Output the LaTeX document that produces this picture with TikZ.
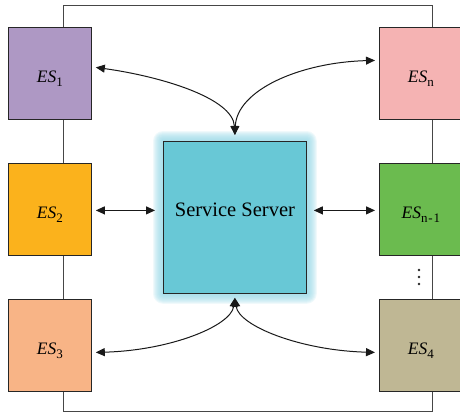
\documentclass[tikz,border=0pt]{standalone}
\usepackage{fontspec}
\setmainfont{Liberation Serif}
\usetikzlibrary{arrows.meta,calc,backgrounds}

\definecolor{esone}{RGB}{174,152,196}
\definecolor{estwo}{RGB}{251,178,28}
\definecolor{esthree}{RGB}{248,180,134}
\definecolor{esfour}{RGB}{191,183,148}
\definecolor{esn}{RGB}{245,179,179}
\definecolor{esnm}{RGB}{107,187,79}
\definecolor{srvfill}{RGB}{104,200,214}
\definecolor{srvglow}{RGB}{150,215,230}
\definecolor{ringgray}{RGB}{70,70,70}

% label of an edge server: italic ES with an upright, lowered index
\newcommand{\eslabel}[1]{{\fontsize{17.5}{20}\selectfont\itshape ES\/}{\fontsize{13}{14}\selectfont\raisebox{-4pt}{#1}}}

\begin{document}
\begin{tikzpicture}[x=1pt,y=-1pt,
  esbox/.style={draw=black!85, line width=0.8pt, minimum width=83pt,
    minimum height=92pt, inner sep=0pt, anchor=north west,
    text height=20pt, text depth=2pt},
  ring/.style={draw=ringgray, line width=1pt},
  biarrow/.style={{Triangle[length=9pt,width=8pt]}-{Triangle[length=9pt,width=8pt]},
    line width=1pt, draw=black!90, fill=none},
  tipfill/.style={black!90}
]
\useasboundingbox (0,0) rectangle (460,412);

% ring connecting all edge servers
\coordinate (ringNW) at (63,6);
\coordinate (ringSE) at (432,411);
\draw[ring] (ringNW) rectangle (ringSE);

% edge servers
\node[esbox, fill=esone]   (es1)  at (8,27)    {\eslabel{1}};
\node[esbox, fill=estwo]   (es2)  at (8,163)   {\eslabel{2}};
\node[esbox, fill=esthree] (es3)  at (8,299)   {\eslabel{3}};
\node[esbox, fill=esn]     (esn)  at (379,27)  {\eslabel{n}};
\node[esbox, fill=esnm]    (esnm) at (379,163) {\eslabel{n\kern0.8pt-\kern0.8pt1}};
\node[esbox, fill=esfour]  (es4)  at (379,299) {\eslabel{4}};

% vertical ellipsis between ES_{n-1} and ES_4
\fill[black!85] (419,270) circle (1.3) (419,277) circle (1.3) (419,284) circle (1.3);

% central service server
\node[draw=black!85, line width=0.8pt, fill=srvfill, anchor=north west,
  minimum width=143pt, minimum height=152pt, inner sep=0pt,
  text height=0pt, text depth=2pt,
  font=\fontsize{20.5}{24}\selectfont] (server) at (163,141) {Service Server};

% soft halo around the service server
\begin{scope}[on background layer]
  \foreach \g in {10,9,...,1}
    \fill[srvglow, opacity=0.14, rounded corners=\g pt]
      ($(server.south west)+(-\g pt,-\g pt)$) rectangle ($(server.north east)+(\g pt,\g pt)$);
\end{scope}

% arrow end points
\coordinate (a1)  at ([shift={(4,-6)}]es1.east);
\coordinate (an)  at ([shift={(-4,-13)}]esn.west);
\coordinate (a2)  at ([shift={(4,1)}]es2.east);
\coordinate (anm) at ([shift={(-4,1)}]esnm.west);
\coordinate (a3)  at ([shift={(4,7)}]es3.east);
\coordinate (a4)  at ([shift={(-4,7)}]es4.west);
\coordinate (sT)  at ([shift={(0,-6)}]server.north);
\coordinate (sB)  at ([shift={(0,4)}]server.south);
\coordinate (sL)  at ([shift={(-8,-7)}]server.west);
\coordinate (sR)  at ([shift={(7,-7)}]server.east);

% links between the edge servers and the service server
\draw[biarrow] (a1) .. controls ($(a1)+(65,9)$) and ($(sT)+(-2,-37)$) .. (sT);
\draw[biarrow] (an) .. controls ($(an)+(-75,2)$) and ($(sT)+(2,-45)$) .. (sT);
\draw[biarrow] (a2) -- (sL);
\draw[biarrow] (sR) -- (anm);
\draw[biarrow] (a3) .. controls ($(a3)+(75,-2)$) and ($(sB)+(-4,28)$) .. (sB);
\draw[biarrow] (a4) .. controls ($(a4)+(-75,-2)$) and ($(sB)+(4,28)$) .. (sB);
\end{tikzpicture}
\end{document}
